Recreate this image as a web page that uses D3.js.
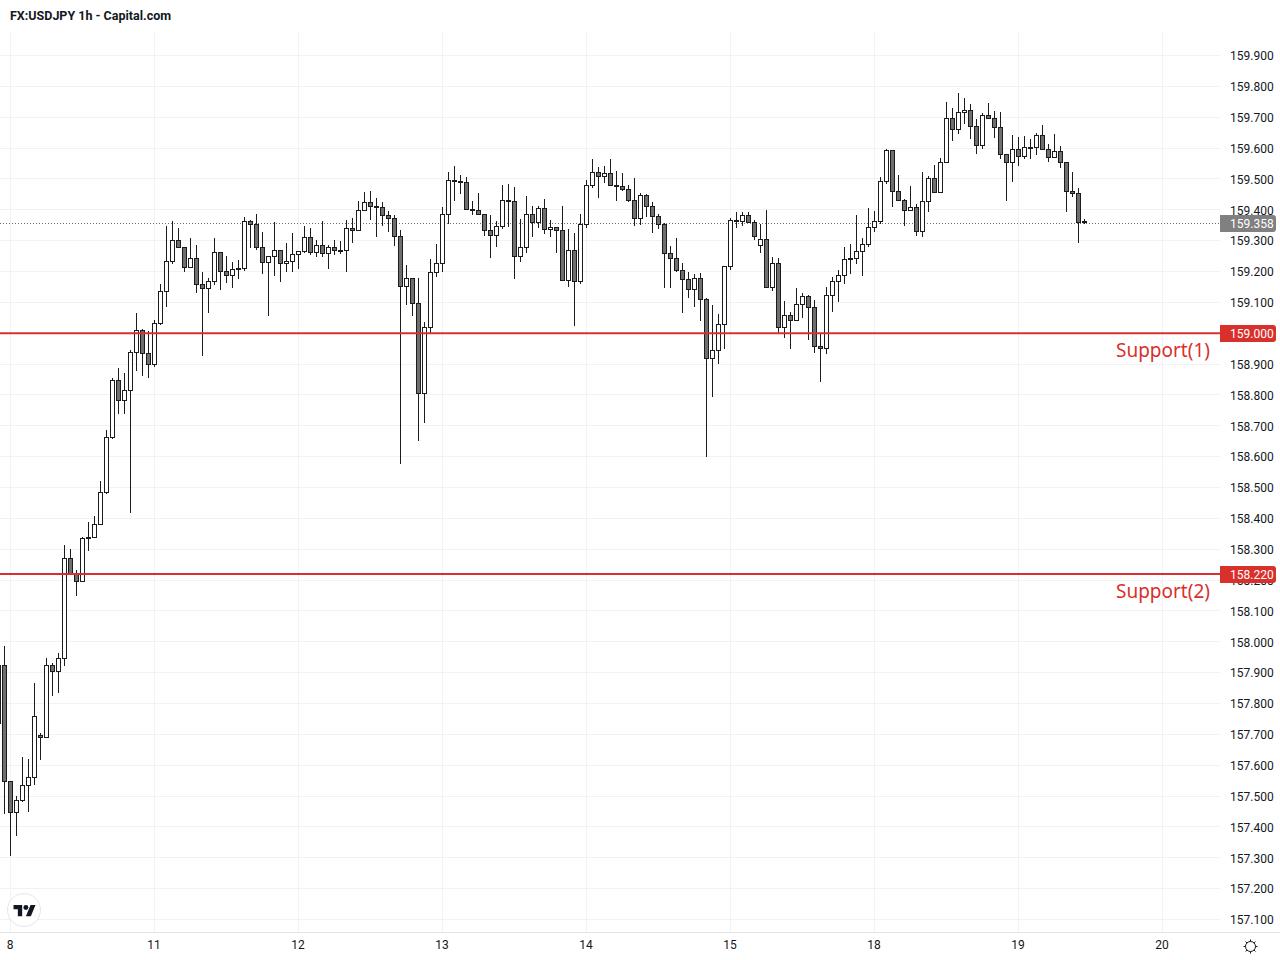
<!DOCTYPE html>
<html>
<head>
<meta charset="utf-8">
<title>FX:USDJPY 1h</title>
<script src="https://cdn.jsdelivr.net/npm/d3@7"></script>
<style>
html, body { margin: 0; padding: 0; background: #fff; }
svg { display: block; }
text { font-family: Roboto, sans-serif; }
</style>
</head>
<body>
<script>
var title = "FX:USDJPY 1h - Capital.com";

var opens = [
  157.736,157.924,157.546,157.447,157.485,157.533,157.560,157.697,157.690,157.923,
  157.903,157.946,158.270,158.220,158.194,158.338,158.338,158.380,158.485,158.663,
  158.848,158.783,158.815,158.939,159.009,158.934,158.899,159.031,159.135,159.232,
  159.300,159.278,159.213,159.242,159.158,159.145,159.168,159.261,159.200,159.187,
  159.210,159.210,159.362,159.352,159.278,159.229,159.249,159.268,159.226,159.232,
  159.255,159.265,159.310,159.263,159.284,159.258,159.278,159.268,159.268,159.339,
  159.333,159.398,159.423,159.410,159.407,159.381,159.372,159.313,159.151,159.177,
  159.096,158.805,159.017,159.197,159.226,159.385,159.495,159.492,159.488,159.401,
  159.398,159.385,159.333,159.317,159.346,159.430,159.427,159.249,159.278,159.385,
  159.359,159.404,159.336,159.342,159.333,159.171,159.268,159.168,159.352,159.479,
  159.521,159.508,159.517,159.479,159.475,159.466,159.430,159.372,159.446,159.410,
  159.378,159.352,159.258,159.242,159.203,159.174,159.142,159.177,159.109,158.918,
  158.944,159.028,159.216,159.365,159.361,159.381,159.359,159.284,159.304,159.148,
  159.226,159.018,159.057,159.041,159.093,159.119,159.083,158.957,158.950,159.122,
  159.168,159.187,159.242,159.242,159.265,159.287,159.342,159.362,159.492,159.592,
  159.459,159.430,159.398,159.407,159.330,159.427,159.501,159.456,159.553,159.696,
  159.660,159.715,159.722,159.670,159.608,159.705,159.696,159.666,159.579,159.553,
  159.595,159.573,159.602,159.603,159.641,159.595,159.569,159.589,159.553,159.459,
  159.453,159.361
];
var highs = [
  157.924,157.986,157.546,157.500,157.625,157.619,157.865,157.703,157.947,157.930,
  157.962,158.313,158.300,158.231,158.338,158.388,158.407,158.520,158.686,158.854,
  158.887,158.871,158.945,159.064,159.012,159.006,159.042,159.159,159.347,159.362,
  159.339,159.278,159.307,159.285,159.197,159.177,159.307,159.261,159.249,159.230,
  159.237,159.375,159.366,159.386,159.327,159.249,159.359,159.268,159.291,159.323,
  159.265,159.347,159.339,159.300,159.362,159.284,159.300,159.297,159.365,159.373,
  159.427,159.456,159.460,159.436,159.423,159.394,159.380,159.334,159.220,159.177,
  159.177,159.035,159.240,159.288,159.407,159.521,159.541,159.512,159.504,159.427,
  159.453,159.385,159.381,159.362,159.480,159.483,159.472,159.368,159.443,159.410,
  159.410,159.433,159.365,159.342,159.410,159.336,159.323,159.385,159.495,159.563,
  159.537,159.540,159.563,159.524,159.517,159.479,159.501,159.453,159.449,159.423,
  159.385,159.355,159.281,159.307,159.226,159.197,159.190,159.193,159.114,159.090,
  159.062,159.216,159.372,159.392,159.391,159.392,159.366,159.353,159.399,159.246,
  159.242,159.104,159.067,159.146,159.129,159.122,159.106,158.999,159.148,159.180,
  159.203,159.278,159.288,159.381,159.307,159.404,159.395,159.504,159.595,159.592,
  159.511,159.433,159.475,159.417,159.521,159.508,159.543,159.566,159.747,159.728,
  159.777,159.760,159.741,159.692,159.712,159.744,159.718,159.715,159.579,159.641,
  159.634,159.637,159.628,159.647,159.673,159.611,159.644,159.605,159.553,159.521,
  159.469,159.368
];
var lows = [
  157.736,157.444,157.306,157.371,157.481,157.449,157.539,157.617,157.690,157.827,
  157.837,157.924,158.220,158.151,158.194,158.297,158.338,158.380,158.482,158.660,
  158.741,158.741,158.420,158.880,158.864,158.855,158.891,159.027,159.085,159.226,
  159.278,159.199,159.213,159.131,158.929,159.066,159.159,159.143,159.163,159.149,
  159.178,159.202,159.278,159.270,159.192,159.056,159.188,159.169,159.199,159.199,
  159.211,159.261,159.256,159.249,159.249,159.211,159.256,159.259,159.199,159.293,
  159.333,159.398,159.368,159.314,159.349,159.330,159.283,158.579,159.094,159.056,
  158.653,158.712,158.999,159.185,159.201,159.355,159.431,159.454,159.401,159.386,
  159.385,159.318,159.244,159.280,159.339,159.346,159.176,159.234,159.260,159.315,
  159.344,159.322,159.312,159.263,159.171,159.150,159.024,159.161,159.342,159.472,
  159.440,159.488,159.479,159.430,159.462,159.427,159.349,159.352,159.377,159.328,
  159.339,159.147,159.147,159.200,159.066,159.116,159.088,159.040,158.601,158.796,
  158.902,158.949,159.205,159.344,159.349,159.359,159.305,159.260,159.148,159.140,
  159.003,158.985,158.951,159.041,159.052,158.981,158.938,158.844,158.934,159.069,
  159.104,159.161,159.195,159.226,159.188,159.280,159.331,159.355,159.484,159.412,
  159.430,159.348,159.398,159.317,159.312,159.396,159.456,159.456,159.553,159.623,
  159.648,159.679,159.632,159.584,159.600,159.696,159.635,159.565,159.429,159.493,
  159.542,159.566,159.566,159.579,159.595,159.555,159.569,159.536,159.393,159.442,
  159.293,159.355
];
var closes = [
  157.924,157.546,157.447,157.485,157.533,157.560,157.757,157.690,157.923,157.903,
  157.946,158.270,158.220,158.194,158.335,158.335,158.380,158.485,158.663,158.848,
  158.783,158.815,158.939,159.009,158.934,158.899,159.031,159.135,159.232,159.300,
  159.278,159.213,159.242,159.158,159.145,159.168,159.261,159.200,159.187,159.206,
  159.206,159.362,159.352,159.278,159.229,159.249,159.268,159.226,159.232,159.255,
  159.265,159.310,159.263,159.284,159.258,159.278,159.268,159.265,159.339,159.333,
  159.398,159.423,159.410,159.407,159.381,159.372,159.313,159.151,159.177,159.096,
  158.805,159.017,159.197,159.226,159.385,159.495,159.492,159.488,159.401,159.398,
  159.385,159.333,159.317,159.346,159.430,159.427,159.249,159.278,159.385,159.359,
  159.404,159.336,159.342,159.333,159.171,159.268,159.168,159.352,159.479,159.521,
  159.508,159.517,159.479,159.475,159.466,159.430,159.372,159.446,159.410,159.378,
  159.352,159.258,159.242,159.203,159.174,159.142,159.177,159.109,158.918,158.944,
  159.028,159.216,159.365,159.361,159.381,159.359,159.313,159.304,159.148,159.226,
  159.018,159.057,159.041,159.093,159.119,159.083,158.957,158.950,159.122,159.168,
  159.187,159.239,159.239,159.265,159.287,159.342,159.362,159.492,159.592,159.459,
  159.430,159.398,159.407,159.330,159.427,159.501,159.456,159.553,159.696,159.660,
  159.715,159.722,159.670,159.608,159.705,159.696,159.666,159.579,159.553,159.595,
  159.573,159.602,159.603,159.641,159.595,159.569,159.589,159.553,159.459,159.453,
  159.359,159.358
];

// one tick per day, the number is the bar it falls on
var dayLabels = ["8", "11", "12", "13", "14", "15", "18", "19", "20"];
var dayBars = [2, 26, 50, 74, 98, 122, 146, 170, 194];

var priceTicks = [
  157.1, 157.2, 157.3, 157.4, 157.5, 157.6, 157.7, 157.8, 157.9, 158.0,
  158.1, 158.2, 158.3, 158.4, 158.5, 158.6, 158.7, 158.8, 158.9, 159.0,
  159.1, 159.2, 159.3, 159.4, 159.5, 159.6, 159.7, 159.8, 159.9
];

var supportPrices = [159.0, 158.22];
var supportNames = ["Support(1)", "Support(2)"];
var lastPrice = 159.358;

var w = 1280,
    h = 960,
    paneRight = 1220,
    paneTop = 32,
    paneBottom = 932,
    red = "#d9302c",
    ink = "#131722";

var x = d3.scaleLinear().domain([0, 181]).range([-1.5, 1084.5]);
var y = d3.scaleLinear().domain([157.1, 159.9]).range([919.5, 55.5]);
var fmt = d3.format(".3f");

// edges on the pixel grid so the 1px strokes stay sharp
function snap(v) { return Math.floor(v) + 0.5; }

var svg = d3.select("body").append("svg")
    .attr("width", w)
    .attr("height", h);

svg.append("g").selectAll("line")
    .data(priceTicks)
  .enter().append("line")
    .attr("x1", 0)
    .attr("x2", paneRight)
    .attr("y1", function(d) { return snap(y(d)); })
    .attr("y2", function(d) { return snap(y(d)); })
    .attr("stroke", "#f2f2f3");

svg.append("g").selectAll("line")
    .data(dayBars)
  .enter().append("line")
    .attr("x1", function(d) { return x(d); })
    .attr("x2", function(d) { return x(d); })
    .attr("y1", paneTop)
    .attr("y2", paneBottom)
    .attr("stroke", "#f2f2f3");

// last price line sits under the candles
svg.append("line")
    .attr("x1", 0)
    .attr("x2", paneRight)
    .attr("y1", snap(y(lastPrice)) + 1)
    .attr("y2", snap(y(lastPrice)) + 1)
    .attr("stroke", "#6e6e6e")
    .attr("stroke-dasharray", "1,2");

var candles = svg.append("g").selectAll("g")
    .data(d3.range(opens.length))
  .enter().append("g");

candles.append("line")
    .attr("x1", function(i) { return x(i); })
    .attr("x2", function(i) { return x(i); })
    .attr("y1", function(i) { return Math.floor(y(highs[i])); })
    .attr("y2", function(i) { return Math.ceil(y(lows[i])); })
    .attr("stroke", "#1c1c1c");

candles.append("rect")
    .attr("x", function(i) { return x(i) - 2; })
    .attr("width", 4)
    .attr("y", function(i) { return snap(y(Math.max(opens[i], closes[i]))); })
    .attr("height", function(i) {
      return Math.max(1, snap(y(Math.min(opens[i], closes[i]))) - snap(y(Math.max(opens[i], closes[i]))));
    })
    .attr("fill", function(i) { return closes[i] < opens[i] ? "#6f6f6f" : "#fff"; })
    .attr("stroke", "#1c1c1c");

// support lines
svg.append("g").selectAll("line")
    .data(supportPrices)
  .enter().append("line")
    .attr("x1", 0)
    .attr("x2", paneRight)
    .attr("y1", function(d) { return y(d); })
    .attr("y2", function(d) { return y(d); })
    .attr("stroke", red)
    .attr("stroke-width", 2);

svg.append("g").selectAll("text")
    .data(supportPrices)
  .enter().append("text")
    .attr("x", 1210)
    .attr("y", function(d) { return y(d) + 24; })
    .attr("text-anchor", "end")
    .attr("fill", red)
    .style("font-family", "'Noto Sans', sans-serif")
    .style("font-size", "19px")
    .text(function(d, i) { return supportNames[i]; });

// price axis
var yAxis = d3.axisRight(y)
    .tickValues(priceTicks)
    .tickFormat(fmt)
    .tickSize(0)
    .tickPadding(0);

var yg = svg.append("g")
    .attr("transform", "translate(1230,0.5)")
    .call(yAxis);
yg.select(".domain").remove();
yg.selectAll("text")
    .attr("fill", ink)
    .style("font-family", "Roboto, sans-serif")
    .style("font-size", "12px");

// time axis
var xAxis = d3.axisBottom(x)
    .tickValues(dayBars.slice())
    .tickFormat(function(d, i) { return dayLabels[i]; })
    .tickSize(0)
    .tickPadding(8)
    .offset(0);

var xg = svg.append("g")
    .attr("transform", "translate(-0.5," + paneBottom + ")")
    .call(xAxis);
xg.select(".domain").remove();
xg.selectAll("text")
    .attr("fill", ink)
    .style("font-family", "Roboto, sans-serif")
    .style("font-size", "12px");

svg.append("line")
    .attr("x1", 0)
    .attr("x2", w)
    .attr("y1", paneBottom + 0.5)
    .attr("y2", paneBottom + 0.5)
    .attr("stroke", "#e0e3eb");

// price tags on the axis
var tagPrices = [lastPrice].concat(supportPrices);
var tagColors = ["#808080", red, red];

var tags = svg.append("g").selectAll("g")
    .data(tagPrices)
  .enter().append("g")
    .attr("transform", function(d) { return "translate(" + paneRight + "," + (Math.round(y(d)) + 0.5) + ")"; });

tags.append("path")
    .attr("d", "M0,-8.5H53a3,3 0 0 1 3,3V5.5a3,3 0 0 1 -3,3H0Z")
    .attr("fill", function(d, i) { return tagColors[i]; });

tags.append("text")
    .attr("x", 10)
    .attr("dy", ".35em")
    .attr("fill", "#fff")
    .style("font-size", "12px")
    .text(fmt);

svg.append("text")
    .attr("x", 10)
    .attr("y", 20)
    .attr("fill", ink)
    .style("font-size", "12.5px")
    .style("font-weight", "700")
    .text(title);

// logo
var logo = svg.append("g").attr("transform", "translate(24,910)");
logo.append("circle")
    .attr("r", 16.5)
    .attr("fill", "#fff")
    .attr("stroke", "#e4e6ea");
logo.append("g")
    .attr("transform", "translate(-10.5,-7.5) scale(.62)")
    .call(function(g) {
      g.append("path")
          .attr("d", "M14 22H7V11H0V4h14v18zM28 22h-8l7.5-18h8L28 22z")
          .attr("fill", ink);
      g.append("circle")
          .attr("cx", 20)
          .attr("cy", 8)
          .attr("r", 4)
          .attr("fill", ink);
    });

// settings gear
var gear = svg.append("g").attr("transform", "translate(1250.5,946.5)");
gear.append("circle")
    .attr("r", 5)
    .attr("fill", "none")
    .attr("stroke", ink);
gear.selectAll("line")
    .data(d3.range(8))
  .enter().append("line")
    .attr("x1", function(d) { return 5 * Math.cos(d * Math.PI / 4); })
    .attr("y1", function(d) { return 5 * Math.sin(d * Math.PI / 4); })
    .attr("x2", function(d) { return 7 * Math.cos(d * Math.PI / 4); })
    .attr("y2", function(d) { return 7 * Math.sin(d * Math.PI / 4); })
    .attr("stroke", ink);
</script>
</body>
</html>
